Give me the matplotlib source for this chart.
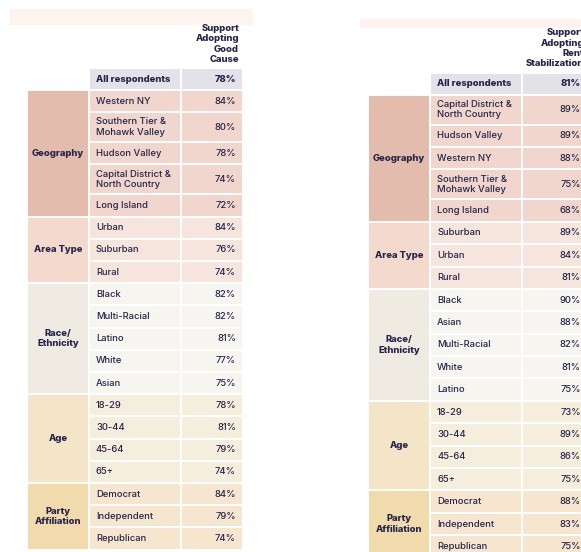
import matplotlib.pyplot as plt
from matplotlib.patches import Rectangle

plt.rcParams['font.family'] = ['Inter', 'DejaVu Sans']

TEXT = '#25254a'
FS = 6.8

groups = ['Geography', 'Area Type', 'Race/\nEthnicity', 'Age', 'Party\nAffiliation']
group_fill = ['#e4bcad', '#f3dacd', '#efebe3', '#f5e5c8', '#f1daab']
row_fill = ['#f0d6cc', '#f5e5dc', '#f6f5ef', '#f6eedc', '#f6e6cf']

# left table: Good Cause
gc_header = 'Support\nAdopting\nGood\nCause'
gc_all = 78
gc_rows = [
    ['Western NY', 'Southern Tier &\nMohawk Valley', 'Hudson Valley',
     'Capital District &\nNorth Country', 'Long Island'],
    ['Urban', 'Suburban', 'Rural'],
    ['Black', 'Multi-Racial', 'Latino', 'White', 'Asian'],
    ['18-29', '30-44', '45-64', '65+'],
    ['Democrat', 'Independent', 'Republican'],
]
gc_vals = [
    [84, 80, 78, 74, 72],
    [84, 76, 74],
    [82, 82, 81, 77, 75],
    [78, 81, 79, 74],
    [84, 79, 74],
]

# right table: Rent Stabilization
rs_header = 'Support\nAdopting\nRent\nStabilization'
rs_all = 81
rs_rows = [
    ['Capital District &\nNorth Country', 'Hudson Valley', 'Western NY',
     'Southern Tier &\nMohawk Valley', 'Long Island'],
    ['Suburban', 'Urban', 'Rural'],
    ['Black', 'Asian', 'Multi-Racial', 'White', 'Latino'],
    ['18-29', '30-44', '45-64', '65+'],
    ['Democrat', 'Independent', 'Republican'],
]
rs_vals = [
    [89, 89, 88, 75, 68],
    [89, 84, 81],
    [90, 88, 82, 81, 75],
    [73, 89, 86, 75],
    [88, 83, 75],
]

fig = plt.figure(figsize=(5.81, 5.52), dpi=100)
ax = fig.add_axes([0, 0, 1, 1])
ax.set_xlim(0, 581)
ax.set_ylim(552, 0)
ax.axis('off')


def cell(x, y, w, h, color):
    ax.add_patch(Rectangle((x, y), w, h, facecolor=color, edgecolor='white', lw=1.4))


def draw_table(x0, top, header, all_val, rows, vals, h1, h2, vw, strip):
    gw, lw_ = 62, 92
    xl, xv = x0 + gw, x0 + gw + lw_
    sx0, sx1, sy0, sy1 = strip
    ax.add_patch(Rectangle((sx0, sy0), sx1 - sx0, sy1 - sy0, facecolor='#fdf4ef', lw=0))
    ax.text(xv + vw - 4, top - 4, header, ha='right', va='bottom', fontsize=FS,
            fontweight='heavy', color=TEXT, linespacing=1.2)
    # all respondents
    cell(xl, top, lw_, 22, '#e3e2e8')
    cell(xv, top, vw, 22, '#e3e2e8')
    ax.text(xl + 7, top + 11, 'All respondents', ha='left', va='center',
            fontsize=FS, fontweight='heavy', color=TEXT)
    ax.text(xv + vw - 7, top + 11, f'{all_val}%', ha='right', va='center',
            fontsize=FS, fontweight='heavy', color=TEXT)
    y = top + 22
    for gi, (g, labs, vs) in enumerate(zip(groups, rows, vals)):
        gy = y
        for lab, v in zip(labs, vs):
            h = h2 if '\n' in lab else h1
            cell(xl, y, lw_, h, row_fill[gi])
            cell(xv, y, vw, h, row_fill[gi])
            ax.text(xl + 7, y + h / 2, lab, ha='left', va='center', fontsize=FS,
                    fontweight='medium', color=TEXT, linespacing=1.2)
            ax.text(xv + vw - 7, y + h / 2, f'{v}%', ha='right', va='center',
                    fontsize=FS, fontweight='medium', color=TEXT)
            y += h
        cell(x0, gy, gw, y - gy, group_fill[gi])
        ax.text(x0 + gw / 2, (gy + y) / 2, g, ha='center', va='center', fontsize=FS,
                fontweight='heavy', color=TEXT, linespacing=1.2)


draw_table(27, 68, gc_header, gc_all, gc_rows, gc_vals, 22.2, 30, 62, (10, 253, 9, 25))
draw_table(368, 72.5, rs_header, rs_all, rs_rows, rs_vals, 22.4, 30, 66, (360, 581, 19, 28))

fig.savefig('out.png', dpi=100)
